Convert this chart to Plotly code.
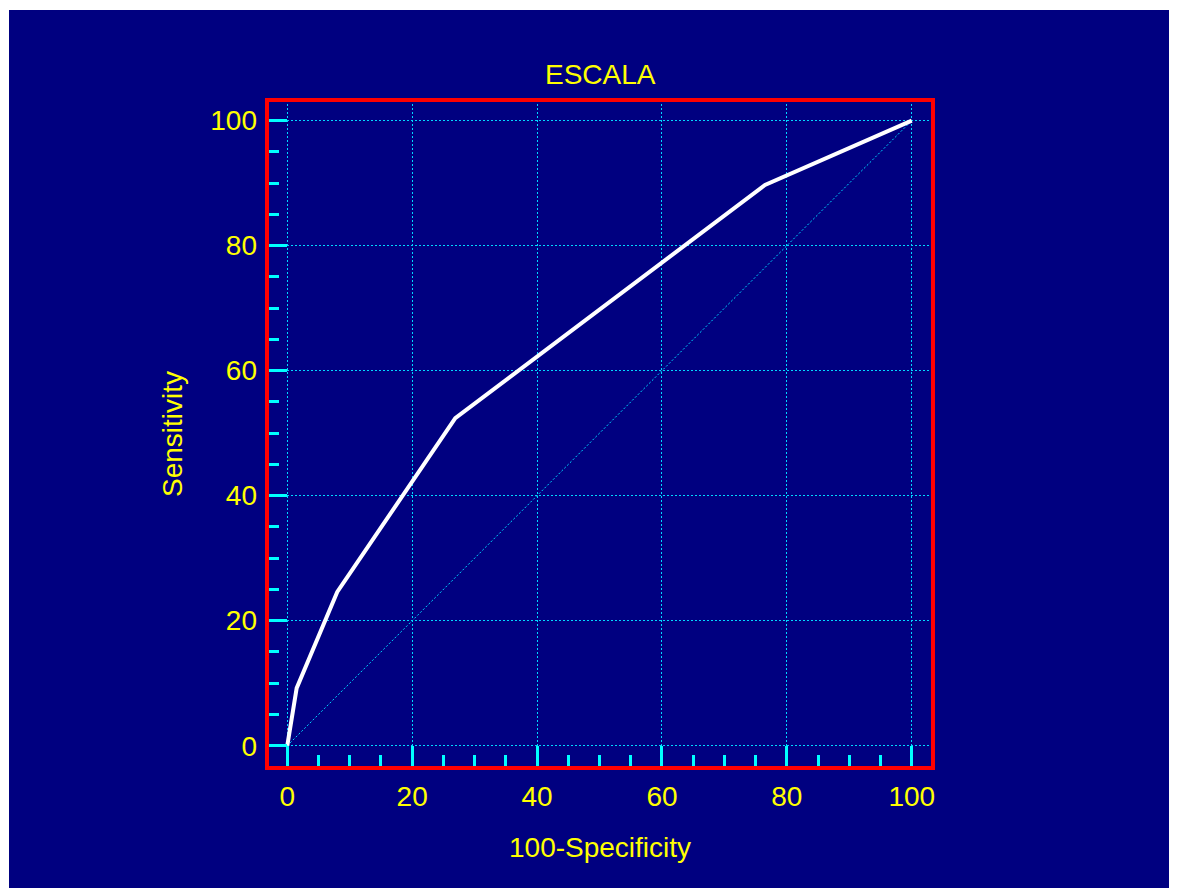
import plotly.graph_objects as go

# ROC curve data
fpr = [0, 1.5, 8.0, 26.9, 76.5, 100]      # 100-Specificity
tpr = [0, 9.2, 24.6, 52.4, 89.7, 100]     # Sensitivity
ref_x = [0, 100]
ref_y = [0, 100]
tick_vals = [0, 20, 40, 60, 80, 100]
tick_text = ["0", "20", "40", "60", "80", "100"]

title_text = "ESCALA"
x_title = "100-Specificity"
y_title = "Sensitivity"

NAVY = "#000080"
YELLOW = "#FFFF00"
CYAN = "#00FFFF"
GRID = "#00D8FF"
DOT = "2px,2px"
FONT = "Liberation Sans, Arial, sans-serif"

OFF = 8  # page body margin offset
W, H = 1161, 880
L, T = 267 - OFF, 100 - OFF
R = W - (933 - OFF)
B = H - (768 - OFF)
PW, PH = W - L - R, H - T - B

def px_x(p):
    return (p - OFF - L) / PW

def px_y(p):
    return (H - B - (p - OFF)) / PH

fig = go.Figure()

fig.add_trace(go.Scatter(x=ref_x, y=ref_y, mode="lines",
                         line=dict(color=GRID, width=1, dash=DOT),
                         hoverinfo="skip", showlegend=False))
fig.add_trace(go.Scatter(x=fpr, y=tpr, mode="lines",
                         line=dict(color="white", width=4),
                         showlegend=False))

axis_common = dict(
    tickvals=tick_vals, ticktext=tick_text,
    ticks="inside", tickcolor=CYAN, tickwidth=3,
    showgrid=True, gridcolor=GRID, gridwidth=1, griddash=DOT,
    zeroline=False, showline=False,
    tickfont=dict(family=FONT, size=28, color=YELLOW),
)

fig.update_xaxes(range=[-3.25, 103.4], ticklen=22, ticklabelstandoff=9,
                 minor=dict(dtick=5, tick0=0, ticks="inside", ticklen=13,
                            tickwidth=3, tickcolor=CYAN, showgrid=False),
                 **axis_common)
fig.update_yaxes(range=[-3.57, 103.3], ticklen=20, ticklabelstandoff=9,
                 minor=dict(dtick=5, tick0=0, ticks="inside", ticklen=12,
                            tickwidth=3, tickcolor=CYAN, showgrid=False),
                 **axis_common)

shapes = [
    # thin white strips at the top and left edges
    dict(type="rect", xref="paper", yref="paper",
         x0=px_x(0), x1=px_x(W + OFF), y0=px_y(10), y1=px_y(0),
         fillcolor="white", line=dict(width=0), layer="below"),
    dict(type="rect", xref="paper", yref="paper",
         x0=px_x(0), x1=px_x(9), y0=px_y(H + OFF), y1=px_y(0),
         fillcolor="white", line=dict(width=0), layer="below"),
    # red frame
    dict(type="rect", xref="paper", yref="paper",
         x0=0, x1=1, y0=0, y1=1,
         line=dict(color="#FF0000", width=4), layer="above"),
]

annotations = [
    dict(text=title_text, xref="paper", yref="paper",
         x=0.5, y=px_y(74.5), xanchor="center", yanchor="middle",
         showarrow=False, font=dict(family=FONT, size=28, color=YELLOW)),
    dict(text=x_title, xref="paper", yref="paper",
         x=px_x(599.5), y=px_y(847), xanchor="center", yanchor="middle",
         showarrow=False, font=dict(family=FONT, size=28, color=YELLOW)),
    dict(text=y_title, xref="paper", yref="paper",
         x=px_x(172), y=px_y(434), xanchor="center", yanchor="middle",
         textangle=-90,
         showarrow=False, font=dict(family=FONT, size=28, color=YELLOW)),
]

fig.update_layout(
    width=W, height=H,
    margin=dict(l=L, r=R, t=T, b=B, pad=0),
    paper_bgcolor=NAVY, plot_bgcolor=NAVY,
    shapes=shapes, annotations=annotations,
    showlegend=False,
)

fig.write_html("out.html")
